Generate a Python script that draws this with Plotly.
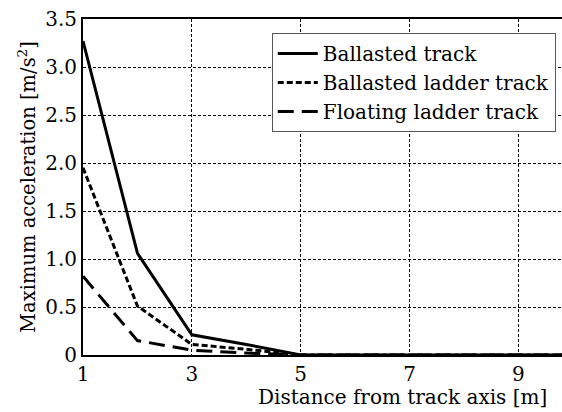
import plotly.graph_objects as go

distance = [1, 2, 3, 4, 5, 6, 7, 8, 9, 10]
ballasted = [3.27, 1.06, 0.21, 0.11, 0.0, 0.0, 0.0, 0.0, 0.0, 0.0]
ballasted_ladder = [1.95, 0.51, 0.11, 0.06, 0.0, 0.0, 0.0, 0.0, 0.0, 0.0]
floating_ladder = [0.82, 0.15, 0.05, 0.02, 0.0, 0.0, 0.0, 0.0, 0.0, 0.0]

y_tickvals = [0, 0.5, 1.0, 1.5, 2.0, 2.5, 3.0, 3.5]
y_ticktext = ["0", "0.5", "1.0", "1.5", "2.0", "2.5", "3.0", "3.5"]
x_tickvals = [1, 3, 5, 7, 9]

FONT = "'DejaVu Serif', 'Liberation Serif', serif"

fig = go.Figure()
fig.add_trace(go.Scatter(x=distance, y=ballasted, mode="lines", name="Ballasted track",
                         line=dict(color="black", width=3, dash="solid")))
fig.add_trace(go.Scatter(x=distance, y=ballasted_ladder, mode="lines", name="Ballasted ladder track",
                         line=dict(color="black", width=3, dash="6px,3px")))
fig.add_trace(go.Scatter(x=distance, y=floating_ladder, mode="lines", name="Floating ladder track",
                         line=dict(color="black", width=3, dash="16px,8px")))

fig.update_layout(
    width=562, height=412,
    margin=dict(l=83, r=0, t=19, b=57),
    paper_bgcolor="white", plot_bgcolor="white",
    font=dict(family=FONT, size=19, color="black"),
    showlegend=True,
    legend=dict(x=0.987, y=0.958, xanchor="right", yanchor="top",
                bordercolor="#555", borderwidth=1, bgcolor="white",
                font=dict(family=FONT, size=20), tracegroupgap=0, itemwidth=40),
    xaxis=dict(range=[1, 9.8], tickvals=x_tickvals, showgrid=True,
               gridcolor="black", griddash="3px,2px", gridwidth=1,
               showline=True, linecolor="black", linewidth=2, mirror=True,
               ticks="", zeroline=False, tickfont=dict(family=FONT, size=20)),
    yaxis=dict(range=[0, 3.5], tickvals=y_tickvals, ticktext=y_ticktext, showgrid=True,
               gridcolor="black", griddash="3px,2px", gridwidth=1,
               showline=True, linecolor="black", linewidth=2, mirror=False,
               ticks="", zeroline=False, tickfont=dict(family=FONT, size=20),
               title=dict(text="Maximum acceleration [m/s<sup>2</sup>]", standoff=4,
                          font=dict(family=FONT, size=19.5))),
    annotations=[dict(text="Distance from track axis [m]", xref="paper", yref="paper",
                      x=0.666, y=-0.126, xanchor="center", yanchor="middle",
                      showarrow=False, font=dict(family=FONT, size=20))],
)

fig.write_html("out.html")
